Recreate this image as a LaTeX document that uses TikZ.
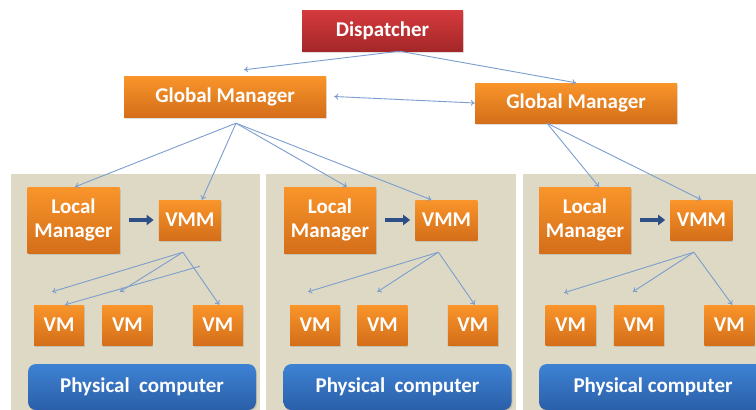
\documentclass[tikz,border=0pt]{standalone}
\usepackage{fontspec}
\setmainfont{Carlito}
\usetikzlibrary{positioning}
\usetikzlibrary{arrows.meta}
\usetikzlibrary{shadows}

\definecolor{panelbg}{HTML}{DDD9C4}
\definecolor{orangetop}{HTML}{F9952A}
\definecolor{orangebot}{HTML}{D46E1A}
\definecolor{redtop}{HTML}{D53A3D}
\definecolor{redbot}{HTML}{A52729}
\definecolor{bluetop}{HTML}{3E82D4}
\definecolor{bluebot}{HTML}{2A5FA8}
\definecolor{linkblue}{HTML}{7C9ECF}
\definecolor{arrowblue}{HTML}{2E4F86}

\tikzset{
  unit/.style={draw=none, text=white, align=center, inner sep=0pt,
    font=\bfseries\fontsize{21}{24}\selectfont,
    drop shadow={opacity=0.25, shadow xshift=1pt, shadow yshift=-1.5pt}},
  orangebox/.style={unit, top color=orangetop, bottom color=orangebot},
  vmbox/.style={orangebox, minimum width=50pt, minimum height=40pt},
  physbox/.style={unit, top color=bluetop, bottom color=bluebot, rounded corners=8pt,
    minimum width=228pt, minimum height=46pt},
  panel/.style={fill=panelbg, draw=none},
  link/.style={draw=linkblue, line width=0.9pt, -{To[length=4pt,width=6pt]}},
  twoway/.style={draw=linkblue, line width=0.9pt, {To[length=4pt,width=6pt]}-{To[length=4pt,width=6pt]}},
  pass/.style={draw=arrowblue, line width=3.5pt, -{Triangle[length=7pt,width=10pt]},
    shorten <=9pt, shorten >=5pt}
}

\begin{document}
\begin{tikzpicture}[x=1pt, y=-1pt]
  \clip (0,0) rectangle (756,410);
  \fill[white] (0,0) rectangle (756,410);

  % machines
  \fill[panel] (11,174) rectangle (260,415);
  \fill[panel] (266,174) rectangle (516,415);
  \fill[panel] (523,174) rectangle (760,415);

  % top level
  \node (disp) [unit, top color=redtop, bottom color=redbot,
    minimum width=161pt, minimum height=41pt] at (382.5,30.5) {Dispatcher};
  \node (gm1) [orangebox, minimum width=202pt, minimum height=41pt] at (225,96.5) {Global Manager};
  \node (gm2) [orangebox, minimum width=202pt, minimum height=40pt] at (576,103) {Global Manager};

  % first machine
  \node (lm1) [orangebox, minimum width=92pt, minimum height=66pt] at (73.5,220) {Local\\Manager};
  \node (vmm1) [orangebox, minimum width=62pt, minimum height=40pt, right = 39pt of lm1] {VMM};
  \node (vm11) [vmbox] at (59,325) {VM};
  \node (vm12) [vmbox, right = 18pt of vm11] {VM};
  \node (vm13) [vmbox, right = 40pt of vm12] {VM};
  \node (phys1) [physbox] at (142,387) {Physical\ \ computer};

  % second machine
  \node (lm2) [orangebox, minimum width=92pt, minimum height=66pt] at (330,220) {Local\\Manager};
  \node (vmm2) [orangebox, minimum width=62pt, minimum height=40pt, right = 39pt of lm2] {VMM};
  \node (vm21) [vmbox] at (315,325) {VM};
  \node (vm22) [vmbox, right = 17pt of vm21] {VM};
  \node (vm23) [vmbox, right = 40pt of vm22] {VM};
  \node (phys2) [physbox] at (397.5,387) {Physical\ \ computer};

  % third machine
  \node (lm3) [orangebox, minimum width=92pt, minimum height=66pt] at (585,220) {Local\\Manager};
  \node (vmm3) [orangebox, minimum width=62pt, minimum height=40pt, right = 39pt of lm3] {VMM};
  \node (vm31) [vmbox] at (570.5,325) {VM};
  \node (vm32) [vmbox, right = 18pt of vm31] {VM};
  \node (vm33) [vmbox, right = 40pt of vm32] {VM};
  \node (phys3) [physbox] at (653,387) {Physical computer};

  % fan-out points
  \coordinate (ds) at ([xshift=17pt]disp.south);
  \coordinate (g1s) at ([xshift=11pt,yshift=-6pt]gm1.south);
  \coordinate (g2s) at ([xshift=-29pt]gm2.south);
  \coordinate (v1s) at ([xshift=-7pt,yshift=-12pt]vmm1.south);
  \coordinate (v2s) at ([xshift=-8pt,yshift=-12pt]vmm2.south);
  \coordinate (v3s) at ([xshift=-7.5pt,yshift=-12pt]vmm3.south);

  \draw [link] (ds) -- ([xshift=19pt,yshift=6pt]gm1.north);
  \draw [link] (ds) -- (gm2.north);
  \draw [twoway] ([xshift=8pt]gm1.east) -- (gm2.west);

  \draw [link] (g1s) -- ([xshift=1.5pt]lm1.north);
  \draw [link] (g1s) -- ([xshift=12pt]vmm1.north);
  \draw [link] (g1s) -- ([xshift=17pt]lm2.north);
  \draw [link] (g1s) -- ([xshift=-15pt]vmm2.north);
  \draw [link] (g2s) -- ([xshift=14pt]lm3.north);
  \draw [link] (g2s) -- (vmm3.north);

  \draw [pass] (lm1) -- (vmm1);
  \draw [pass] (lm2) -- (vmm2);
  \draw [pass] (lm3) -- (vmm3);

  \draw [link] (v1s) -- ([xshift=-7pt,yshift=13pt]vm11.north);
  \draw [link] (v1s) -- ([xshift=-7.5pt,yshift=13pt]vm12.north);
  \draw [link] (v1s) -- ([xshift=1.5pt]vm13.north);
  \draw [link] ([xshift=10pt,yshift=-26pt]vmm1.south) -- ([xshift=6pt]vm11.north);

  \draw [link] (v2s) -- ([xshift=-7pt,yshift=13pt]vm21.north);
  \draw [link] (v2s) -- ([xshift=-5pt,yshift=13pt]vm22.north);
  \draw [link] (v2s) -- ([xshift=2pt]vm23.north);

  \draw [link] (v3s) -- ([xshift=-6.5pt,yshift=12pt]vm31.north);
  \draw [link] (v3s) -- ([xshift=-6pt,yshift=13pt]vm32.north);
  \draw [link] (v3s) -- ([xshift=3pt]vm33.north);
\end{tikzpicture}
\end{document}
